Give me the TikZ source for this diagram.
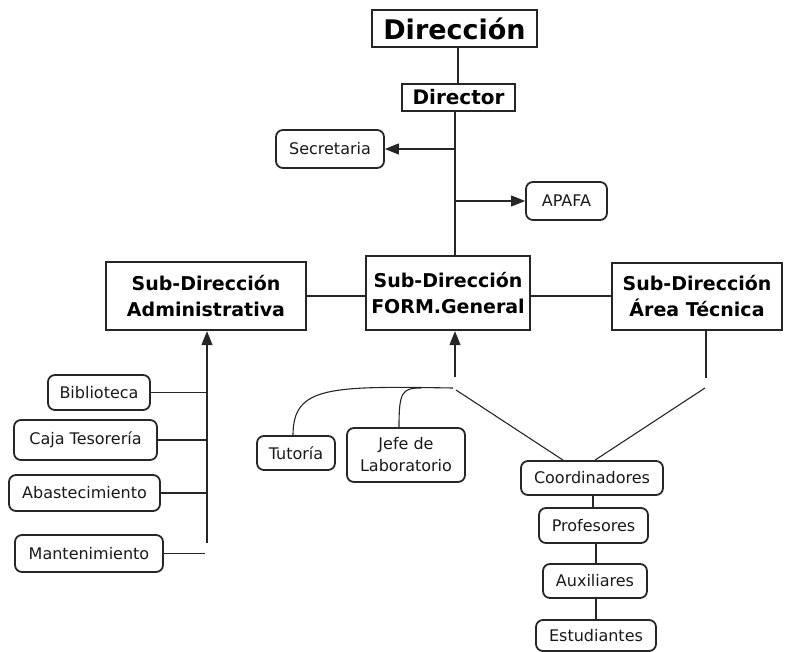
\documentclass[tikz,border=0pt]{standalone}
\usepackage{fontspec}
\setmainfont{DejaVu Sans}
\usetikzlibrary{arrows.meta}
\tikzset{
  every picture/.style={x=1pt,y=-1pt},
  leaf/.style={draw=black!85, line width=1.8pt, rounded corners=7pt, inner sep=0pt,
     align=center, font=\fontsize{16}{22}\selectfont, text=black!90},
  subbox/.style={draw=black!85, line width=2.3pt, inner sep=0pt, align=center,
     font=\fontsize{19}{26}\selectfont\bfseries},
  conn/.style={draw=black!85, line width=1.1pt},
  arr/.style={conn, -{Triangle[length=14pt,width=11pt]}},
}
\begin{document}
\begin{tikzpicture}
\useasboundingbox (0,0) rectangle (785,652);
% top
\node[draw=black!85, line width=2.8pt, inner sep=0pt, minimum width=165pt, minimum height=37pt,
      font=\fontsize{27}{30}\selectfont\bfseries] (dir) at (454.5,28.5) {Dirección};
\node[draw=black!85, line width=2.5pt, inner sep=0pt, minimum width=113pt, minimum height=27pt,
      font=\fontsize{20}{24}\selectfont\bfseries] (director) at (458.5,97.5) {Director};
\node[leaf, minimum width=108pt, minimum height=38pt] (sec) at (330,149) {Secretaria};
\node[leaf, minimum width=81pt, minimum height=38pt] (apafa) at (566.5,201) {APAFA};
% sub-directions
\node[subbox, minimum width=200pt, minimum height=68pt] (sadm) at (206,296) {Sub-Dirección\\Administrativa};
\node[subbox, minimum width=164pt, minimum height=74pt] (sform) at (448,293) {Sub-Dirección\\FORM.General};
\node[subbox, minimum width=170pt, minimum height=67pt] (sarea) at (697,296.5) {Sub-Dirección\\Área Técnica};
% admin leaves
\node[leaf, minimum width=102pt, minimum height=35pt] (bib) at (99,392.5) {Biblioteca};
\node[leaf, minimum width=143pt, minimum height=40pt] (caja) at (85.5,440) {Caja Tesorería};
\node[leaf, minimum width=151pt, minimum height=36pt] (abas) at (84.5,493) {Abastecimiento};
\node[leaf, minimum width=148pt, minimum height=37pt] (mant) at (89,553.5) {Mantenimiento};
% form leaves
\node[leaf, minimum width=78pt, minimum height=34pt] (tut) at (296,453) {Tutoría};
\node[leaf, minimum width=118pt, minimum height=54pt] (jefe) at (406,455) {Jefe de\\Laboratorio};
\node[leaf, minimum width=142pt, minimum height=34pt] (coord) at (592,478) {Coordinadores};
\node[leaf, minimum width=109pt, minimum height=35pt] (prof) at (593.5,525.5) {Profesores};
\node[leaf, minimum width=104pt, minimum height=34pt] (aux) at (595,581) {Auxiliares};
\node[leaf, minimum width=120pt, minimum height=31pt] (est) at (596,635.5) {Estudiantes};
% coordinates
\coordinate (t1) at (455,111);
\coordinate (ts) at (454,150);
\coordinate (ta) at (456,200);
\coordinate (a1) at (207,543);
\coordinate (f1) at (455,377);
\coordinate (f2) at (453,388);
\coordinate (j1) at (421,388);
\coordinate (c1) at (456,390);
\coordinate (r1) at (706,378);
\coordinate (r2) at (705,388);
% connectors
\draw[conn] (director.north -| 458,0) -- (458,0 |- dir.south);
\draw[conn] (t1) -- (t1 |- sform.north);
\draw[arr] (ts |- sec.east) -- (sec.east);
\draw[arr] (ta |- apafa.west) -- (apafa.west);
\draw[conn] (sadm.east |- 0,296) -- (sform.west |- 0,296);
\draw[conn] (sform.east |- 0,296) -- (sarea.west |- 0,296);
\draw[arr] (a1) -- (a1 |- sadm.south);
\draw[conn] (bib.east) -- (bib.east -| a1);
\draw[conn] (caja.east) -- (caja.east -| a1);
\draw[conn] (abas.east) -- (abas.east -| a1);
\draw[conn] (mant.east) -- (mant.east -| 205,0);
\draw[arr] (f1) -- (f1 |- sform.south);
\draw[conn] (f2) .. controls (330,386) and (293,386) .. (tut.north -| 293,0);
\draw[conn] (j1) .. controls (402,388) and (399,392) .. (jefe.north -| 399,0);
\draw[conn] (c1) -- (coord.north -| 563,0);
\draw[conn] (r2) -- (coord.north -| 595,0);
\draw[conn] (r1 |- sarea.south) -- (r1);
\draw[conn] (coord.south -| 593,0) -- (prof.north -| 593,0);
\draw[conn] (prof.south -| 596,0) -- (aux.north -| 596,0);
\draw[conn] (aux.south -| 596,0) -- (est.north -| 596,0);
\end{tikzpicture}
\end{document}
